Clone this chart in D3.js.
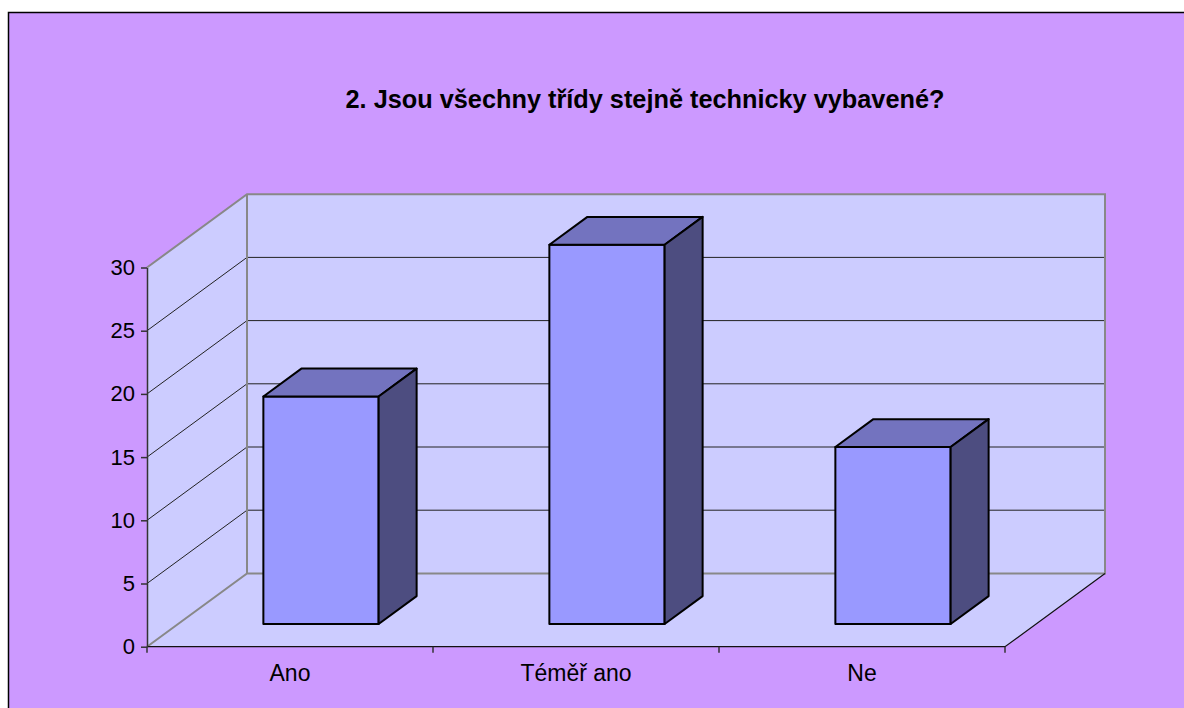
<!DOCTYPE html>
<html>
<head>
<meta charset="utf-8">
<script src="https://cdn.jsdelivr.net/npm/d3@7"></script>
<style>
  body { margin: 0; background: #fff; }
  svg { display: block; font-family: "Liberation Sans", Arial, sans-serif; }
</style>
</head>
<body>
<script>
// data
var categories = ["Ano", "Téměř ano", "Ne"];
var values = [18, 30, 14];
var yTicks = [0, 5, 10, 15, 20, 25, 30];
var title = "2. Jsou všechny třídy stejně technicky vybavené?";

var W = 1184, H = 708;
var DX = 100, DY = 73.3;          // depth offset of back wall
var z0 = 0.31, z1 = 0.69;          // bar depth inside the floor

var x = d3.scaleBand().domain(categories).range([147, 1005]).padding(0);
var y = d3.scaleLinear().domain([0, 30]).range([646.7, 267.5]);

function proj(px, v, z) { return [px + z * DX, y(v) - z * DY]; }
function poly(pts) { return pts.map(function(p) { return p.join(","); }).join(" "); }

var svg = d3.select("body").append("svg")
    .attr("width", W)
    .attr("height", H);

svg.append("rect")
    .attr("x", 8.5).attr("y", 12.5)
    .attr("width", W + 20).attr("height", H + 20)
    .attr("fill", "#CC99FF")
    .attr("stroke", "#000").attr("stroke-width", 1.5);

var x0 = x.range()[0], x1 = x.range()[1];

// side wall
svg.append("polygon")
    .attr("points", poly([proj(x0, 0, 0), proj(x0, 30, 0), proj(x0, 30, 1), proj(x0, 0, 1)]))
    .attr("fill", "#CCCCFF");
// back wall
svg.append("polygon")
    .attr("points", poly([proj(x0, 0, 1), proj(x0, 30, 1), proj(x1, 30, 1), proj(x1, 0, 1)]))
    .attr("fill", "#CCCCFF");
// floor
svg.append("polygon")
    .attr("points", poly([proj(x0, 0, 0), proj(x1, 0, 0), proj(x1, 0, 1), proj(x0, 0, 1)]))
    .attr("fill", "#CCCCFF");

// gridlines
var grid = yTicks.filter(function(v) { return v > 0 && v < 30; });
svg.selectAll(".gback")
    .data(grid)
  .enter().append("line")
    .attr("class", "gback")
    .attr("x1", function(v) { return proj(x0, v, 1)[0]; })
    .attr("y1", function(v) { return proj(x0, v, 1)[1]; })
    .attr("x2", function(v) { return proj(x1, v, 1)[0]; })
    .attr("y2", function(v) { return proj(x1, v, 1)[1]; })
    .attr("stroke", "#222").attr("stroke-width", 1);
svg.selectAll(".gside")
    .data(grid)
  .enter().append("line")
    .attr("class", "gside")
    .attr("x1", function(v) { return proj(x0, v, 0)[0]; })
    .attr("y1", function(v) { return proj(x0, v, 0)[1]; })
    .attr("x2", function(v) { return proj(x0, v, 1)[0]; })
    .attr("y2", function(v) { return proj(x0, v, 1)[1]; })
    .attr("stroke", "#222").attr("stroke-width", 1);

// wall edges (gray)
svg.append("polyline")
    .attr("points", poly([proj(x0, 30, 0), proj(x0, 30, 1), proj(x1, 30, 1), proj(x1, 0, 1), proj(x0, 0, 1), proj(x0, 0, 0)]))
    .attr("fill", "none").attr("stroke", "#888").attr("stroke-width", 2);
svg.append("line")
    .attr("x1", proj(x0, 0, 1)[0]).attr("y1", proj(x0, 0, 1)[1])
    .attr("x2", proj(x0, 30, 1)[0]).attr("y2", proj(x0, 30, 1)[1])
    .attr("stroke", "#888").attr("stroke-width", 2);
// floor front edges
svg.append("polyline")
    .attr("points", poly([proj(x0, 0, 0), proj(x1, 0, 0), proj(x1, 0, 1)]))
    .attr("fill", "none").attr("stroke", "#111").attr("stroke-width", 1.2);

// y axis
var yAxis = d3.axisLeft(y).tickValues(yTicks).tickSize(6).tickSizeOuter(0).tickPadding(6);
var ya = svg.append("g")
    .attr("transform", "translate(" + x0 + ",0)")
    .call(yAxis);
ya.select(".domain").attr("stroke", "#333").attr("stroke-width", 1.5);
ya.selectAll(".tick line").attr("stroke", "#333").attr("stroke-width", 1.5);
ya.selectAll("text")
    .attr("font-size", "22px")
    .attr("font-family", "Liberation Sans, Arial, sans-serif")
    .attr("fill", "#000");

// x axis: labels at band centres, ticks at band edges
var xAxis = d3.axisBottom(x).tickSize(0).tickPadding(18);
var xa = svg.append("g")
    .attr("transform", "translate(0," + y(0) + ")")
    .call(xAxis);
xa.select(".domain").remove();
xa.selectAll("text")
    .attr("font-size", "23px")
    .attr("font-family", "Liberation Sans, Arial, sans-serif")
    .attr("fill", "#000");
var edges = categories.map(function(c) { return x(c); }).concat([x1]);
svg.selectAll(".xtick")
    .data(edges)
  .enter().append("line")
    .attr("class", "xtick")
    .attr("x1", function(d) { return d; }).attr("x2", function(d) { return d; })
    .attr("y1", y(0)).attr("y2", y(0) + 6)
    .attr("stroke", "#333").attr("stroke-width", 1.5);

// bars
var bw = x.bandwidth() * 0.403;
var bars = svg.selectAll(".bar")
    .data(categories.map(function(c, i) { return {cat: c, v: values[i]}; }))
  .enter().append("g")
    .attr("class", "bar");

function bx0(d) { return x(d.cat) + (x.bandwidth() - bw) / 2; }

bars.append("polygon")
    .attr("points", function(d) {
      var a = bx0(d), b = a + bw;
      return poly([proj(a, 0, z0), proj(a, d.v, z0), proj(b, d.v, z0), proj(b, 0, z0)]);
    })
    .attr("fill", "#9999FF");
bars.append("polygon")
    .attr("points", function(d) {
      var a = bx0(d), b = a + bw;
      return poly([proj(a, d.v, z0), proj(b, d.v, z0), proj(b, d.v, z1), proj(a, d.v, z1)]);
    })
    .attr("fill", "#7373BF");
bars.append("polygon")
    .attr("points", function(d) {
      var b = bx0(d) + bw;
      return poly([proj(b, 0, z0), proj(b, d.v, z0), proj(b, d.v, z1), proj(b, 0, z1)]);
    })
    .attr("fill", "#4D4D80");
bars.selectAll("polygon")
    .attr("stroke", "#000").attr("stroke-width", 2).attr("stroke-linejoin", "round");

// title
svg.append("text")
    .attr("x", 645).attr("y", 107.5)
    .attr("text-anchor", "middle")
    .attr("font-size", "25.3px")
    .attr("font-weight", "bold")
    .text(title);
</script>
</body>
</html>
